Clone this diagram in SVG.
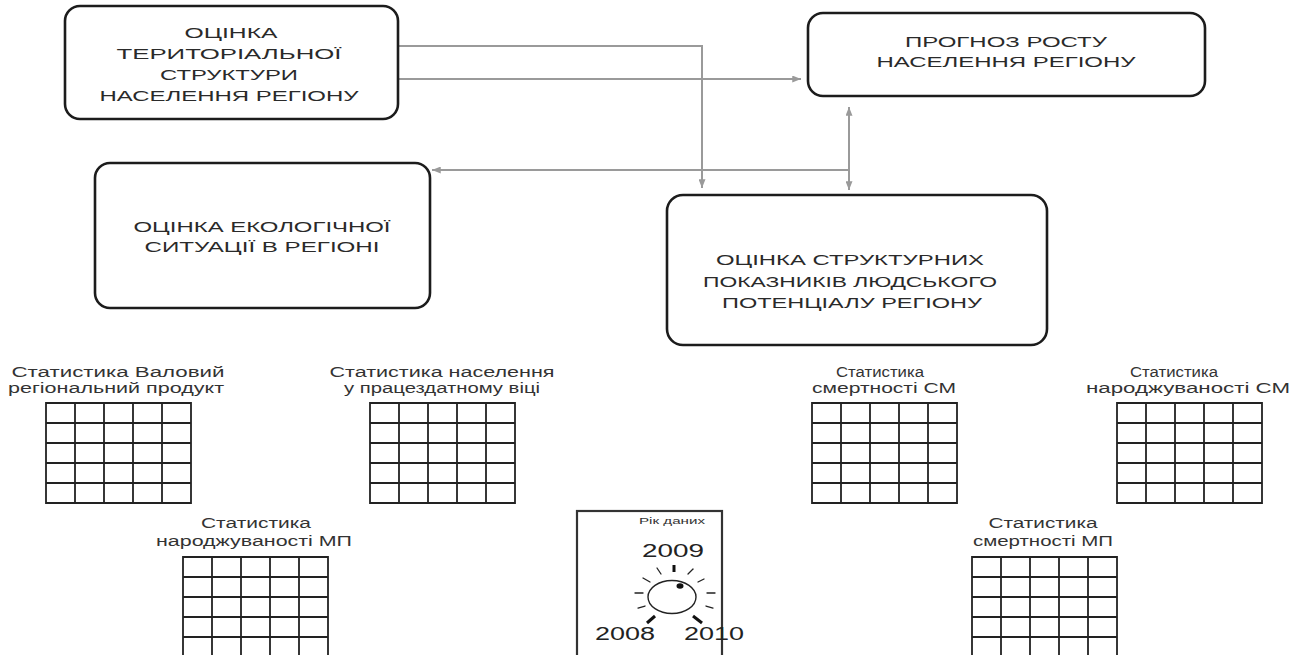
<svg xmlns="http://www.w3.org/2000/svg" xmlns:xlink="http://www.w3.org/1999/xlink" width="1302" height="655" viewBox="0 0 1302 655">
<style>
.box{fill:#fff;stroke:#1c1c1c;stroke-width:2.6}
.bt{font-family:"Liberation Sans",Arial,sans-serif;font-size:15px;fill:#2a2a2a;text-anchor:middle}
.lt{font-family:"Liberation Sans",Arial,sans-serif;font-size:14px;fill:#333;text-anchor:middle}
.con{fill:none;stroke:#9a9a9a;stroke-width:2}
.grid{fill:none;stroke:#222;stroke-width:1.8}
.tick{stroke:#222;stroke-width:1.3;stroke-linecap:round}
.tickb{stroke:#111;stroke-width:3;stroke-linecap:butt}
</style>
<defs>
<marker id="ah" viewBox="0 0 10 8" refX="10" refY="4" markerWidth="9" markerHeight="7" markerUnits="userSpaceOnUse" orient="auto-start-reverse">
<path d="M0,0 L10,4 L0,8 Z" fill="#9a9a9a"/>
</marker>
<path id="grid" class="grid" d="M0,0 H145 V100 H0 Z M0,20 H145 M0,40 H145 M0,60 H145 M0,80 H145 M29,0 V100 M58,0 V100 M87,0 V100 M116,0 V100"/>
</defs>
<rect width="1302" height="655" fill="#fff"/>

<g id="connectors">
<path class="con" d="M398,46 H702 V188" marker-end="url(#ah)"/>
<path class="con" d="M398,79 H801" marker-end="url(#ah)"/>
<path class="con" d="M849,170 H432" marker-end="url(#ah)"/>
<path class="con" d="M849,107 V190" marker-start="url(#ah)" marker-end="url(#ah)"/>
</g>

<g id="node-territorial">
<rect class="box" x="65" y="6" width="333" height="113" rx="15"/>
<text class="bt" x="231" y="38" textLength="93" lengthAdjust="spacingAndGlyphs">ОЦІНКА</text>
<text class="bt" x="229" y="59" textLength="225" lengthAdjust="spacingAndGlyphs">ТЕРИТОРІАЛЬНОЇ</text>
<text class="bt" x="229" y="80" textLength="138" lengthAdjust="spacingAndGlyphs">СТРУКТУРИ</text>
<text class="bt" x="229" y="101" textLength="259" lengthAdjust="spacingAndGlyphs">НАСЕЛЕННЯ РЕГІОНУ</text>
</g>

<g id="node-forecast">
<rect class="box" x="808" y="13" width="397" height="83" rx="15"/>
<text class="bt" x="1006" y="47" textLength="202" lengthAdjust="spacingAndGlyphs">ПРОГНОЗ РОСТУ</text>
<text class="bt" x="1006" y="67" textLength="259" lengthAdjust="spacingAndGlyphs">НАСЕЛЕННЯ РЕГІОНУ</text>
</g>

<g id="node-ecology">
<rect class="box" x="95" y="163" width="335" height="145" rx="15"/>
<text class="bt" x="262" y="232" textLength="257" lengthAdjust="spacingAndGlyphs">ОЦІНКА ЕКОЛОГІЧНОЇ</text>
<text class="bt" x="262" y="252" textLength="235" lengthAdjust="spacingAndGlyphs">СИТУАЦІЇ В РЕГІОНІ</text>
</g>

<g id="node-structural">
<rect class="box" x="667" y="195" width="380" height="150" rx="16"/>
<text class="bt" x="850" y="265" textLength="268" lengthAdjust="spacingAndGlyphs">ОЦІНКА СТРУКТУРНИХ</text>
<text class="bt" x="850" y="287" textLength="294" lengthAdjust="spacingAndGlyphs">ПОКАЗНИКІВ ЛЮДСЬКОГО</text>
<text class="bt" x="852" y="308" textLength="260" lengthAdjust="spacingAndGlyphs">ПОТЕНЦІАЛУ РЕГІОНУ</text>
</g>

<g id="table-grp">
<text class="lt" x="118" y="377" textLength="213" lengthAdjust="spacingAndGlyphs">Статистика Валовий</text>
<text class="lt" x="116" y="393" textLength="216" lengthAdjust="spacingAndGlyphs">регіональний продукт</text>
<use xlink:href="#grid" x="46" y="403"/>
</g>

<g id="table-working-age">
<text class="lt" x="442" y="377" textLength="225" lengthAdjust="spacingAndGlyphs">Статистика населення</text>
<text class="lt" x="442" y="393" textLength="196" lengthAdjust="spacingAndGlyphs">у працездатному віці</text>
<use xlink:href="#grid" x="370" y="403"/>
</g>

<g id="table-mortality-cm">
<text class="lt" x="880" y="377" textLength="88" lengthAdjust="spacingAndGlyphs">Статистика</text>
<text class="lt" x="884" y="393" textLength="144" lengthAdjust="spacingAndGlyphs">смертності СМ</text>
<use xlink:href="#grid" x="812" y="403"/>
</g>

<g id="table-birth-cm">
<text class="lt" x="1174" y="377" textLength="88" lengthAdjust="spacingAndGlyphs">Статистика</text>
<text class="lt" x="1188" y="393" textLength="204" lengthAdjust="spacingAndGlyphs">народжуваності СМ</text>
<use xlink:href="#grid" x="1117" y="403"/>
</g>

<g id="table-birth-mp">
<text class="lt" x="256" y="528" textLength="110" lengthAdjust="spacingAndGlyphs">Статистика</text>
<text class="lt" x="254" y="546" textLength="196" lengthAdjust="spacingAndGlyphs">народжуваності МП</text>
<use xlink:href="#grid" x="183" y="557"/>
</g>

<g id="table-mortality-mp">
<text class="lt" x="1043" y="528" textLength="109" lengthAdjust="spacingAndGlyphs">Статистика</text>
<text class="lt" x="1043" y="546" textLength="140" lengthAdjust="spacingAndGlyphs">смертності МП</text>
<use xlink:href="#grid" x="972" y="557"/>
</g>

<g id="year-dial">
<rect x="577" y="511" width="145" height="150" fill="#fff" stroke="#333" stroke-width="2.2"/>
<text class="lt" x="672" y="524" style="font-size:9px" textLength="66" lengthAdjust="spacingAndGlyphs">Рік даних</text>
<text class="lt" x="673" y="557" style="font-size:18px;fill:#222" textLength="62" lengthAdjust="spacingAndGlyphs">2009</text>
<text class="lt" x="625" y="640" style="font-size:18px;fill:#222" textLength="60" lengthAdjust="spacingAndGlyphs">2008</text>
<text class="lt" x="714" y="640" style="font-size:18px;fill:#222" textLength="60" lengthAdjust="spacingAndGlyphs">2010</text>
<ellipse cx="672" cy="597" rx="24" ry="16.5" fill="none" stroke="#222" stroke-width="1.4"/>
<ellipse cx="680" cy="586" rx="3.5" ry="2.7" fill="#111"/>
<line class="tickb" x1="674" y1="565" x2="674" y2="572"/>
<line class="tick" x1="657" y1="568" x2="661" y2="574"/>
<line class="tick" x1="688" y1="574" x2="693" y2="569"/>
<line class="tick" x1="643" y1="578" x2="650" y2="582"/>
<line class="tick" x1="698" y1="582" x2="704" y2="579"/>
<line class="tick" x1="635" y1="593" x2="643" y2="593"/>
<line class="tick" x1="707" y1="593" x2="715" y2="593"/>
<line class="tick" x1="638" y1="608" x2="645" y2="606"/>
<line class="tick" x1="706" y1="606" x2="713" y2="608"/>
<line class="tickb" x1="647" y1="623" x2="655" y2="616"/>
<line class="tickb" x1="693" y1="616" x2="702" y2="623"/>
</g>
</svg>
